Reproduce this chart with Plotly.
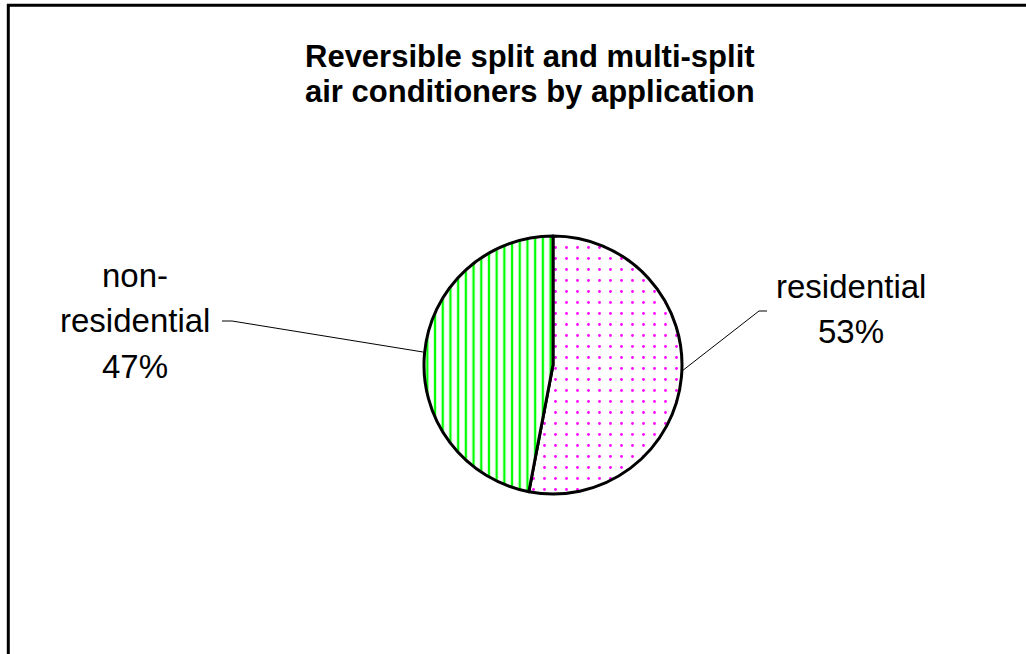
import plotly.graph_objects as go

W, H = 1026, 654

# data
labels = ["residential", "non-residential"]
values = [53, 47]
label_lines = [["residential"], ["non-", "residential"]]
title_lines = ["Reversible split and multi-split", "air conditioners by application"]

fg_colors = ["#FF00FF", "#00FF00"]
shapes_fill = [".", "|"]


def px(x):
    return x / W


def py(y):
    return 1 - y / H


fig = go.Figure()
fig.add_trace(go.Pie(
    labels=labels,
    values=values,
    sort=False,
    direction="clockwise",
    rotation=0,
    textinfo="none",
    hoverinfo="label+percent",
    showlegend=False,
    domain=dict(x=[px(424), px(682)], y=[py(494), py(236)]),
    marker=dict(
        colors=["white", "white"],
        line=dict(color="black", width=3),
        pattern=dict(
            shape=shapes_fill,
            fgcolor=fg_colors,
            bgcolor=["white", "white"],
            size=[11, 7.7],
            solidity=[0.05, 0.3],
        ),
    ),
))

total = sum(values)
annotations = []

# title lines
for i, line in enumerate(title_lines):
    annotations.append(dict(
        text="<b>" + line + "</b>", x=px(530), y=py(56.5 + 35 * i),
        xref="paper", yref="paper", showarrow=False,
        xanchor="center", yanchor="middle",
        font=dict(family="Liberation Sans, Arial", size=31, color="black"),
    ))

# slice labels, placed outside like the original chart
label_pos = [(851, 286), (135, 275)]
for k, name in enumerate(labels):
    pct = round(100 * values[k] / total)
    lines = label_lines[k] + [f"{pct}%"]
    cx, cy = label_pos[k]
    for i, line in enumerate(lines):
        annotations.append(dict(
            text=line, x=px(cx), y=py(cy + 45.5 * i),
            xref="paper", yref="paper", showarrow=False,
            xanchor="center", yanchor="middle",
            font=dict(family="Liberation Sans, Arial", size=33, color="black"),
        ))

# leader lines
leaders = [
    [(682, 371), (759, 311), (767, 311)],
    [(423, 352), (232, 321), (222, 321)],
]
shapes = []
for pts in leaders:
    path = "M " + " L ".join(f"{px(x)},{py(y)}" for x, y in pts)
    shapes.append(dict(type="path", path=path, xref="paper", yref="paper",
                       line=dict(color="black", width=1)))

# chart border (right and bottom sit outside the visible area)
shapes.append(dict(type="rect", xref="paper", yref="paper",
                   x0=px(8.3), y0=py(H + 20), x1=px(W + 20), y1=py(5.3),
                   line=dict(color="black", width=3), fillcolor="rgba(0,0,0,0)"))

fig.update_layout(
    width=W, height=H,
    margin=dict(l=0, r=0, t=0, b=0),
    paper_bgcolor="white",
    plot_bgcolor="white",
    annotations=annotations,
    shapes=shapes,
)

fig.write_html("out.html", config={"displayModeBar": False},
               post_script="document.body.style.margin='0';")
